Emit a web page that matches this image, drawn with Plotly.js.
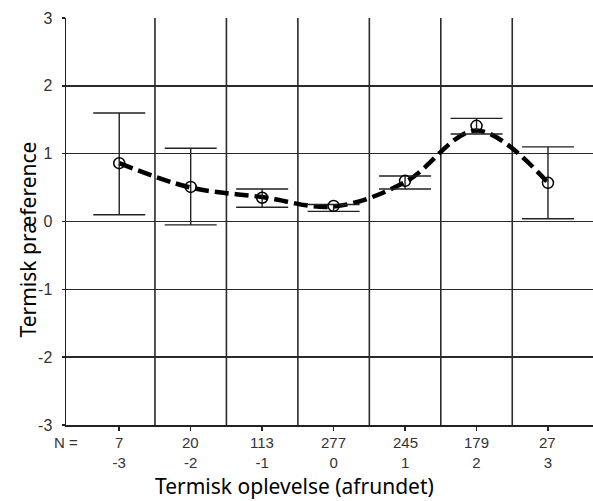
<!DOCTYPE html>
<html>
<head>
<meta charset="utf-8">
<script src="https://cdn.plot.ly/plotly-3.0.1.min.js"></script>
<style>html,body{margin:0;padding:0;background:#fff;}#chart{width:593px;height:501px;}</style>
</head>
<body>
<div id="chart"></div>
<script>
// Categories (rounded thermal sensation) and sample sizes
const categories = [-3, -2, -1, 0, 1, 2, 3];
const counts = [7, 20, 113, 277, 245, 179, 27];
// Mean thermal preference and confidence interval bounds
const meanPref = [0.86, 0.51, 0.35, 0.23, 0.60, 1.41, 0.57];
const upperCI = [1.60, 1.08, 0.48, 0.25, 0.67, 1.52, 1.10];
const lowerCI = [0.10, -0.05, 0.21, 0.15, 0.48, 1.29, 0.04];
// Fitted trend curve values read at each category
const fitPref = [0.86, 0.50, 0.36, 0.22, 0.58, 1.34, 0.57];
const yTicks = [-3, -2, -1, 0, 1, 2, 3];

// Boundaries between categories (for the vertical grid)
const boundaries = categories.slice(1).map((c, i) => (c + categories[i]) / 2);

const errPlus = upperCI.map((u, i) => u - meanPref[i]);
const errMinus = meanPref.map((m, i) => m - lowerCI[i]);

const gridColor = '#2a2a2a';
const tickFont = {family: 'Liberation Sans, Arial, sans-serif', size: 15, color: '#333'};
const titleFont = {family: 'Noto Sans, sans-serif', size: 21, color: '#000'};

const traces = [
  {
    x: categories, y: fitPref, type: 'scatter', mode: 'lines',
    line: {color: '#000', width: 4.5, dash: '14px,6px', shape: 'spline', smoothing: 1},
    hoverinfo: 'skip', showlegend: false
  },
  {
    x: categories, y: meanPref, type: 'scatter', mode: 'markers',
    marker: {symbol: 'circle-open', size: 11, color: '#000', line: {width: 1.5, color: '#000'}},
    error_y: {type: 'data', symmetric: false, array: errPlus, arrayminus: errMinus,
              color: '#222', thickness: 1.4, width: 26},
    showlegend: false
  }
];

const annotations = counts.map((n, i) => ({
  x: categories[i], y: 0, xref: 'x', yref: 'paper', yanchor: 'middle', xanchor: 'center',
  yshift: -17, text: String(n), showarrow: false, font: tickFont
}));
annotations.push({
  x: 0, y: 0, xref: 'paper', yref: 'paper', yanchor: 'middle', xanchor: 'center',
  yshift: -17, text: 'N =', showarrow: false, font: tickFont
});
annotations.push({
  x: -0.55, y: 0, xref: 'x', yref: 'paper', xanchor: 'center', yanchor: 'middle',
  yshift: -61, text: 'Termisk oplevelse (afrundet)', showarrow: false, font: titleFont
});
annotations.push({
  x: 0, y: 0.5, xref: 'paper', yref: 'paper', xanchor: 'center', yanchor: 'middle',
  xshift: -39, yshift: -18, textangle: -90, text: 'Termisk præference', showarrow: false, font: titleFont
});

const shapes = boundaries.map(b => ({
  type: 'line', xref: 'x', yref: 'paper', x0: b, x1: b, y0: 0, y1: 1, layer: 'below',
  line: {color: gridColor, width: 1.6}
}));

const layout = {
  width: 593, height: 501,
  margin: {l: 66, r: 0, t: 18, b: 76, pad: 0},
  paper_bgcolor: '#fff', plot_bgcolor: '#fff',
  showlegend: false,
  xaxis: {
    range: [-3.745, 3.63], tickmode: 'array', tickvals: categories,
    ticktext: categories.map(String),
    showgrid: false, zeroline: false, showline: true, linecolor: '#222', linewidth: 1.5,
    ticks: 'outside', ticklen: 4, tickcolor: '#222', tickwidth: 1.5,
    ticklabelstandoff: 19,
    tickfont: tickFont
  },
  yaxis: {
    range: [-3, 3], tickmode: 'array', tickvals: yTicks, ticktext: yTicks.map(String),
    showgrid: true, gridcolor: gridColor, gridwidth: 1.6, zeroline: false,
    showline: true, linecolor: '#222', linewidth: 1.5,
    ticks: 'outside', ticklen: 3, tickcolor: '#222', tickwidth: 1.5,
    ticklabelstandoff: 6,
    tickfont: {family: 'Liberation Sans, Arial, sans-serif', size: 16, color: '#333'}
  },
  shapes: shapes,
  annotations: annotations
};

Plotly.newPlot('chart', traces, layout, {displayModeBar: false, staticPlot: true});
</script>
</body>
</html>
